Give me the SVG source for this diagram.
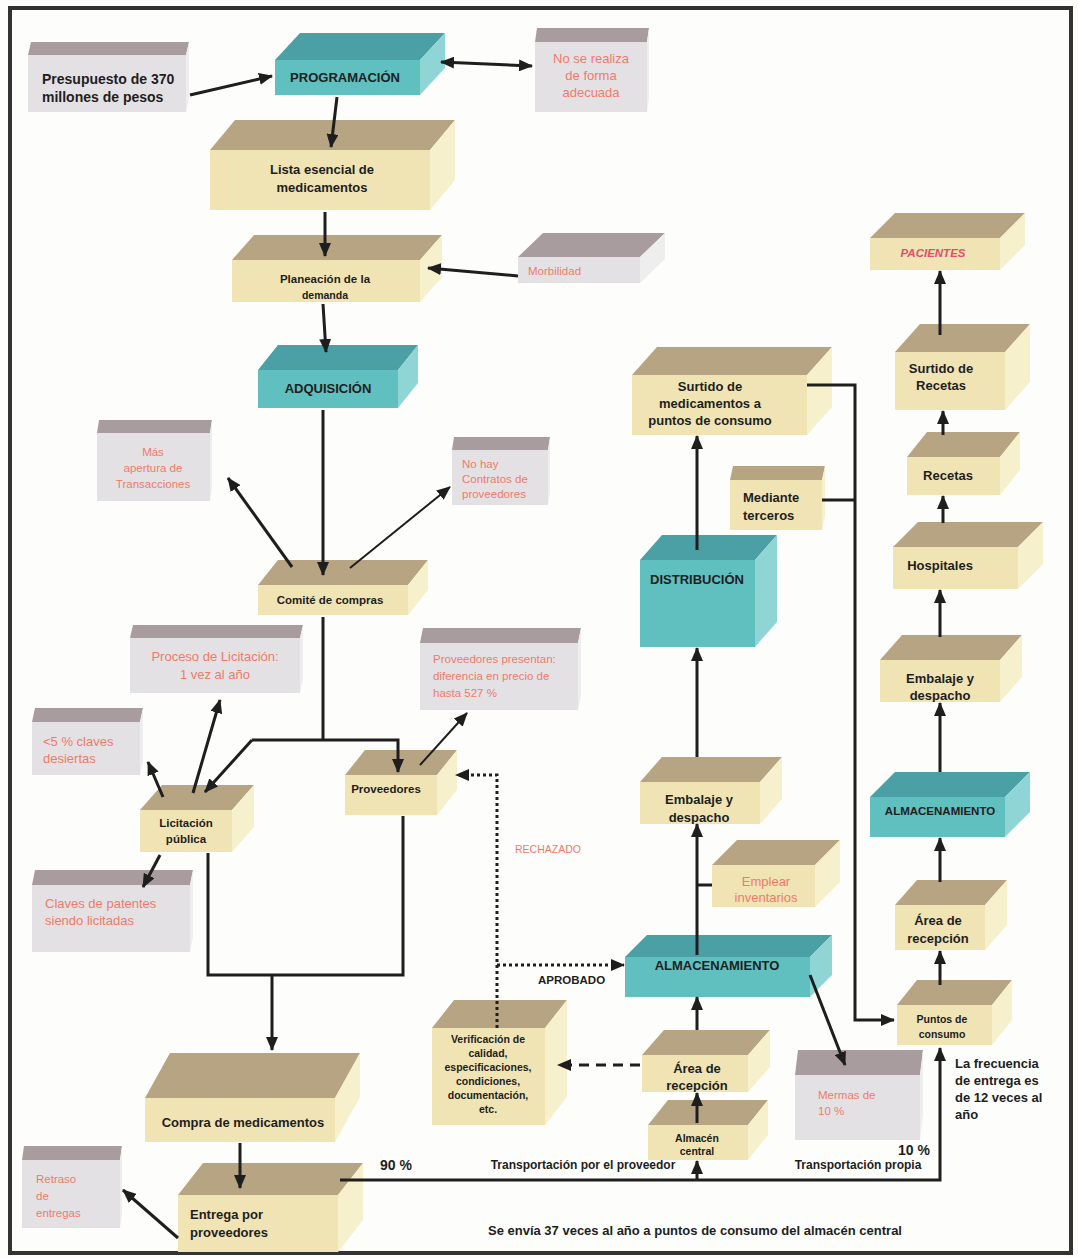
<svg xmlns="http://www.w3.org/2000/svg" width="1078" height="1258" viewBox="0 0 1078 1258">
<style>
.tp{fill:#b6a482}.tf{fill:#f0e4b4}.ts{fill:#f7f0cc}
.ct{fill:#4aa0a5}.cf{fill:#60bfbf}.cs{fill:#90d5d5}
.gt{fill:#a99c9f}.gf{fill:#e4e1e4}.gs{fill:#efeeef}
text{font-family:"Liberation Sans Narrow","Liberation Sans",Arial,sans-serif;font-weight:bold;fill:#1e1e1e}
.c{text-anchor:middle}
.s13{font-size:14px}.s12{font-size:13px}.s11{font-size:11.5px}.s10{font-size:10.5px}
.r{fill:#f07a6a;font-weight:normal}
.ln{fill:none;stroke:#1e1e1e;stroke-width:3}
.thin{stroke-width:2}
.dot{stroke-dasharray:3 3}
.dash{stroke-dasharray:10 7}
</style>
<defs>
<marker id="ah" markerUnits="userSpaceOnUse" markerWidth="14" markerHeight="12" viewBox="0 0 14 12" refX="13" refY="6" orient="auto-start-reverse"><path d="M0,0 L14,6 L0,12 z" fill="#1e1e1e"/></marker>
<clipPath id="cEmb1"><rect x="640" y="782" width="120" height="42"/></clipPath>
<clipPath id="cEmb2"><rect x="880" y="660" width="120" height="42"/></clipPath>
<clipPath id="cArea1"><rect x="642" y="1055" width="106" height="37"/></clipPath>
<clipPath id="cArea2"><rect x="895" y="905" width="90" height="45"/></clipPath>
<clipPath id="cPlan"><rect x="232" y="260" width="188" height="42"/></clipPath>
</defs>
<rect x="0" y="0" width="1078" height="1258" fill="#fdfdfb"/>
<rect x="10" y="8" width="1061" height="1245" fill="none" stroke="#333" stroke-width="4"/>

<g id="presupuesto"><polygon class="gt" points="28,55 186,55 189,42 31,42"/><polygon class="gs" points="186,55 189,42 189,99 186,112"/><rect class="gf" x="28" y="55" width="158" height="57"/>
<text class="s13" x="42" y="84">Presupuesto de 370</text><text class="s13" x="42" y="102">millones de pesos</text></g>

<g id="programacion"><polygon class="ct" points="275,60 420,60 445,33 300,33"/><polygon class="cs" points="420,60 445,33 445,68 420,95"/><rect class="cf" x="275" y="60" width="145" height="35"/>
<text class="s12 c" x="345" y="82">PROGRAMACIÓN</text></g>

<g id="no-se-realiza"><polygon class="gt" points="535,42 647,42 649,28 537,28"/><polygon class="gs" points="647,42 649,28 649,98 647,112"/><rect class="gf" x="535" y="42" width="112" height="70"/>
<text class="s12 c r" x="591" y="63">No se realiza</text><text class="s12 c r" x="591" y="80">de forma</text><text class="s12 c r" x="591" y="97">adecuada</text></g>

<g id="lista"><polygon class="tp" points="210,150 430,150 455,120 235,120"/><polygon class="ts" points="430,150 455,120 455,180 430,210"/><rect class="tf" x="210" y="150" width="220" height="60"/>
<text class="s12 c" x="322" y="174">Lista esencial de</text><text class="s12 c" x="322" y="192">medicamentos</text></g>

<g id="planeacion"><polygon class="tp" points="232,260 420,260 442,235 254,235"/><polygon class="ts" points="420,260 442,235 442,277 420,302"/><rect class="tf" x="232" y="260" width="188" height="42"/>
<g clip-path="url(#cPlan)"><text class="s11 c" x="325" y="283">Planeación de la</text><text class="s10 c" x="325" y="299">demanda</text></g></g>

<g id="morbilidad"><polygon class="gt" points="518,257 640,257 665,233 543,233"/><polygon class="gs" points="640,257 665,233 665,259 640,283"/><rect class="gf" x="518" y="257" width="122" height="26"/>
<text class="s11 r" x="528" y="275">Morbilidad</text></g>

<g id="adquisicion"><polygon class="ct" points="258,370 398,370 418,345 278,345"/><polygon class="cs" points="398,370 418,345 418,383 398,408"/><rect class="cf" x="258" y="370" width="140" height="38"/>
<text class="s12 c" x="328" y="393">ADQUISICIÓN</text></g>

<g id="mas-apertura"><polygon class="gt" points="97,433 210,433 212,420 99,420"/><polygon class="gs" points="210,433 212,420 212,488 210,501"/><rect class="gf" x="97" y="433" width="113" height="68"/>
<text class="s11 c r" x="153" y="456">Más</text><text class="s11 c r" x="153" y="472">apertura de</text><text class="s11 c r" x="153" y="488">Transacciones</text></g>

<g id="no-hay"><polygon class="gt" points="452,450 548,450 550,437 454,437"/><polygon class="gs" points="548,450 550,437 550,492 548,505"/><rect class="gf" x="452" y="450" width="96" height="55"/>
<text class="s11 r" x="462" y="468">No hay</text><text class="s11 r" x="462" y="483">Contratos de</text><text class="s11 r" x="462" y="498">proveedores</text></g>

<g id="comite"><polygon class="tp" points="258,585 408,585 428,560 278,560"/><polygon class="ts" points="408,585 428,560 428,590 408,615"/><rect class="tf" x="258" y="585" width="150" height="30"/>
<text class="s11 c" x="330" y="604">Comité de compras</text></g>

<g id="proceso"><polygon class="gt" points="130,638 300,638 303,625 133,625"/><polygon class="gs" points="300,638 303,625 303,680 300,693"/><rect class="gf" x="130" y="638" width="170" height="55"/>
<text class="s12 c r" x="215" y="661">Proceso de Licitación:</text><text class="s12 c r" x="215" y="679">1 vez al año</text></g>

<g id="presentan"><polygon class="gt" points="420,643 578,643 581,628 423,628"/><polygon class="gs" points="578,643 581,628 581,695 578,710"/><rect class="gf" x="420" y="643" width="158" height="67"/>
<text class="s11 r" x="433" y="663">Proveedores presentan:</text><text class="s11 r" x="433" y="680">diferencia en precio de</text><text class="s11 r" x="433" y="697">hasta 527 %</text></g>

<g id="cinco"><polygon class="gt" points="32,722 140,722 143,708 35,708"/><polygon class="gs" points="140,722 143,708 143,761 140,775"/><rect class="gf" x="32" y="722" width="108" height="53"/>
<text class="s12 r" x="43" y="746">&lt;5 % claves</text><text class="s12 r" x="43" y="763">desiertas</text></g>

<g id="licitacion"><polygon class="tp" points="140,810 232,810 254,785 162,785"/><polygon class="ts" points="232,810 254,785 254,827 232,852"/><rect class="tf" x="140" y="810" width="92" height="42"/>
<text class="s11 c" x="186" y="827">Licitación</text><text class="s11 c" x="186" y="843">pública</text></g>

<g id="claves"><polygon class="gt" points="32,885 190,885 193,870 35,870"/><polygon class="gs" points="190,885 193,870 193,937 190,952"/><rect class="gf" x="32" y="885" width="158" height="67"/>
<text class="s12 r" x="45" y="908">Claves de patentes</text><text class="s12 r" x="45" y="925">siendo licitadas</text></g>

<g id="proveedores"><polygon class="tp" points="345,775 437,775 457,750 365,750"/><polygon class="ts" points="437,775 457,750 457,790 437,815"/><rect class="tf" x="345" y="775" width="92" height="40"/>
<text class="s11 c" x="386" y="793">Proveedores</text></g>

<g id="compra"><polygon class="tp" points="145,1098 335,1098 360,1053 170,1053"/><polygon class="ts" points="335,1098 360,1053 360,1097 335,1142"/><rect class="tf" x="145" y="1098" width="190" height="44"/>
<text class="s12 c" x="243" y="1127">Compra de medicamentos</text></g>

<g id="entrega"><polygon class="tp" points="178,1195 338,1195 363,1163 203,1163"/><polygon class="ts" points="338,1195 363,1163 363,1220 338,1252"/><rect class="tf" x="178" y="1195" width="160" height="57"/>
<text class="s12" x="190" y="1219">Entrega por</text><text class="s12" x="190" y="1237">proveedores</text></g>

<g id="retraso"><polygon class="gt" points="22,1160 120,1160 122,1146 24,1146"/><polygon class="gs" points="120,1160 122,1146 122,1214 120,1228"/><rect class="gf" x="22" y="1160" width="98" height="68"/>
<text class="s11 r" x="36" y="1183">Retraso</text><text class="s11 r" x="36" y="1200">de</text><text class="s11 r" x="36" y="1217">entregas</text></g>

<g id="almacen-central"><polygon class="tp" points="648,1125 748,1125 768,1100 668,1100"/><polygon class="ts" points="748,1125 768,1100 768,1135 748,1160"/><rect class="tf" x="648" y="1125" width="100" height="35"/>
<text class="s10 c" x="697" y="1142">Almacén</text><text class="s10 c" x="697" y="1155">central</text></g>

<g id="area-recepcion-1"><polygon class="tp" points="642,1055 748,1055 770,1030 664,1030"/><polygon class="ts" points="748,1055 770,1030 770,1067 748,1092"/><rect class="tf" x="642" y="1055" width="106" height="37"/>
<g clip-path="url(#cArea1)"><text class="s12 c" x="697" y="1073">Área de</text><text class="s12 c" x="697" y="1090">recepción</text></g></g>

<g id="verificacion"><polygon class="tp" points="432,1028 545,1028 567,1000 454,1000"/><polygon class="ts" points="545,1028 567,1000 567,1097 545,1125"/><rect class="tf" x="432" y="1028" width="113" height="97"/>
<text class="s10 c" x="488" y="1043">Verificación de</text><text class="s10 c" x="488" y="1057">calidad,</text><text class="s10 c" x="488" y="1071">especificaciones,</text><text class="s10 c" x="488" y="1085">condiciones,</text><text class="s10 c" x="488" y="1099">documentación,</text><text class="s10 c" x="488" y="1113">etc.</text></g>

<g id="almacenamiento-1"><polygon class="ct" points="625,957 810,957 832,935 647,935"/><polygon class="cs" points="810,957 832,935 832,975 810,997"/><rect class="cf" x="625" y="957" width="185" height="40"/>
<text class="s12 c" x="717" y="970">ALMACENAMIENTO</text></g>

<g id="mermas"><polygon class="gt" points="795,1075 920,1075 923,1050 798,1050"/><polygon class="gs" points="920,1075 923,1050 923,1115 920,1140"/><rect class="gf" x="795" y="1075" width="125" height="65"/>
<text class="s11 r" x="818" y="1099">Mermas de</text><text class="s11 r" x="818" y="1115">10 %</text></g>

<g id="emplear"><polygon class="tp" points="712,865 815,865 840,840 737,840"/><polygon class="ts" points="815,865 840,840 840,882 815,907"/><rect class="tf" x="712" y="865" width="103" height="42"/>
<text class="s12 c r" x="766" y="886">Emplear</text><text class="s12 c r" x="766" y="902">inventarios</text></g>

<g id="embalaje-1"><polygon class="tp" points="640,782 760,782 782,757 662,757"/><polygon class="ts" points="760,782 782,757 782,799 760,824"/><rect class="tf" x="640" y="782" width="120" height="42"/>
<g clip-path="url(#cEmb1)"><text class="s12 c" x="699" y="804">Embalaje y</text><text class="s12 c" x="699" y="822">despacho</text></g></g>

<g id="distribucion"><polygon class="ct" points="640,560 755,560 777,535 662,535"/><polygon class="cs" points="755,560 777,535 777,622 755,647"/><rect class="cf" x="640" y="560" width="115" height="87"/>
<text class="s12 c" x="697" y="584">DISTRIBUCIÓN</text></g>

<g id="surtido-medicamentos"><polygon class="tp" points="632,375 807,375 832,347 657,347"/><polygon class="ts" points="807,375 832,347 832,407 807,435"/><rect class="tf" x="632" y="375" width="175" height="60"/>
<text class="s12 c" x="710" y="391">Surtido de</text><text class="s12 c" x="710" y="408">medicamentos a</text><text class="s12 c" x="710" y="425">puntos de consumo</text></g>

<g id="mediante"><polygon class="tp" points="730,480 822,480 825,466 733,466"/><polygon class="ts" points="822,480 825,466 825,516 822,530"/><rect class="tf" x="730" y="480" width="92" height="50"/>
<text class="s12" x="743" y="502">Mediante</text><text class="s12" x="743" y="520">terceros</text></g>

<g id="puntos-consumo"><polygon class="tp" points="897,1005 992,1005 1012,980 917,980"/><polygon class="ts" points="992,1005 1012,980 1012,1020 992,1045"/><rect class="tf" x="897" y="1005" width="95" height="40"/>
<text class="s10 c" x="942" y="1023">Puntos de</text><text class="s10 c" x="942" y="1038">consumo</text></g>

<g id="frecuencia"><text class="s12" x="955" y="1068">La frecuencia</text><text class="s12" x="955" y="1085">de entrega es</text><text class="s12" x="955" y="1102">de 12 veces al</text><text class="s12" x="955" y="1119">año</text></g>

<g id="area-recepcion-2"><polygon class="tp" points="895,905 985,905 1007,880 917,880"/><polygon class="ts" points="985,905 1007,880 1007,925 985,950"/><rect class="tf" x="895" y="905" width="90" height="45"/>
<g clip-path="url(#cArea2)"><text class="s12 c" x="938" y="925">Área de</text><text class="s12 c" x="938" y="943">recepción</text></g></g>

<g id="almacenamiento-2"><polygon class="ct" points="870,797 1005,797 1030,772 895,772"/><polygon class="cs" points="1005,797 1030,772 1030,812 1005,837"/><rect class="cf" x="870" y="797" width="135" height="40"/>
<text class="s11 c" x="940" y="815">ALMACENAMIENTO</text></g>

<g id="embalaje-2"><polygon class="tp" points="880,660 1000,660 1022,635 902,635"/><polygon class="ts" points="1000,660 1022,635 1022,677 1000,702"/><rect class="tf" x="880" y="660" width="120" height="42"/>
<g clip-path="url(#cEmb2)"><text class="s12 c" x="940" y="683">Embalaje y</text><text class="s12 c" x="940" y="700">despacho</text></g></g>

<g id="hospitales"><polygon class="tp" points="893,547 1018,547 1043,522 918,522"/><polygon class="ts" points="1018,547 1043,522 1043,564 1018,589"/><rect class="tf" x="893" y="547" width="125" height="42"/>
<text class="s12 c" x="940" y="570">Hospitales</text></g>

<g id="recetas"><polygon class="tp" points="907,457 1000,457 1020,432 927,432"/><polygon class="ts" points="1000,457 1020,432 1020,470 1000,495"/><rect class="tf" x="907" y="457" width="93" height="38"/>
<text class="s12 c" x="948" y="480">Recetas</text></g>

<g id="surtido-recetas"><polygon class="tp" points="895,352 1005,352 1030,324 920,324"/><polygon class="ts" points="1005,352 1030,324 1030,382 1005,410"/><rect class="tf" x="895" y="352" width="110" height="58"/>
<text class="s12 c" x="941" y="373">Surtido de</text><text class="s12 c" x="941" y="390">Recetas</text></g>

<g id="pacientes"><polygon class="tp" points="870,238 1000,238 1025,213 895,213"/><polygon class="ts" points="1000,238 1025,213 1025,245 1000,270"/><rect class="tf" x="870" y="238" width="130" height="32"/>
<text class="s11 c" x="933" y="257" style="fill:#e0506a;font-style:italic">PACIENTES</text></g>

<g id="connectors">
<line class="ln" x1="190" y1="95" x2="272" y2="76" marker-end="url(#ah)"/>
<line class="ln" x1="441" y1="62" x2="532" y2="66" marker-start="url(#ah)" marker-end="url(#ah)"/>
<line class="ln" x1="337" y1="97" x2="331" y2="147" marker-end="url(#ah)"/>
<line class="ln" x1="325" y1="212" x2="325" y2="256" marker-end="url(#ah)"/>
<line class="ln" x1="518" y1="276" x2="428" y2="268" marker-end="url(#ah)"/>
<line class="ln" x1="323" y1="304" x2="326" y2="352" marker-end="url(#ah)"/>
<line class="ln" x1="323" y1="410" x2="323" y2="575" marker-end="url(#ah)"/>
<line class="ln" x1="292" y1="567" x2="228" y2="478" marker-end="url(#ah)"/>
<line class="ln thin" x1="350" y1="568" x2="450" y2="487" marker-end="url(#ah)"/>
<polyline class="ln" points="323,617 323,740"/>
<polyline class="ln" points="252,740 398,740 398,772" marker-end="url(#ah)"/>
<line class="ln" x1="252" y1="740" x2="205" y2="792" marker-end="url(#ah)"/>
<line class="ln" x1="163" y1="797" x2="148" y2="762" marker-end="url(#ah)"/>
<line class="ln" x1="193" y1="793" x2="220" y2="700" marker-end="url(#ah)"/>
<line class="ln" x1="160" y1="855" x2="143" y2="887" marker-end="url(#ah)"/>
<line class="ln thin" x1="420" y1="765" x2="467" y2="713" marker-end="url(#ah)"/>
<polyline class="ln" points="208,853 208,975 403,975 403,816"/>
<line class="ln" x1="272" y1="975" x2="272" y2="1050" marker-end="url(#ah)"/>
<line class="ln" x1="240" y1="1143" x2="240" y2="1188" marker-end="url(#ah)"/>
<line class="ln" x1="178" y1="1238" x2="123" y2="1190" marker-end="url(#ah)"/>
<polyline class="ln" points="340,1180 940,1180 940,1048" marker-end="url(#ah)"/>
<line class="ln" x1="697" y1="1180" x2="697" y2="1161" marker-end="url(#ah)"/>
<line class="ln" x1="697" y1="1123" x2="697" y2="1093" marker-end="url(#ah)"/>
<line class="ln dash" x1="640" y1="1065" x2="558" y2="1065" marker-end="url(#ah)"/>
<polyline class="ln dot" points="497,1028 497,775 456,775" marker-end="url(#ah)"/>
<line class="ln dot" x1="497" y1="965" x2="624" y2="965" marker-end="url(#ah)"/>
<line class="ln" x1="697" y1="1030" x2="697" y2="997" marker-end="url(#ah)"/>
<line class="ln" x1="810" y1="975" x2="845" y2="1065" marker-end="url(#ah)"/>
<line class="ln" x1="697" y1="955" x2="697" y2="824" marker-end="url(#ah)"/>
<line class="ln" x1="697" y1="885" x2="712" y2="885"/>
<line class="ln" x1="697" y1="757" x2="697" y2="648" marker-end="url(#ah)"/>
<line class="ln" x1="697" y1="550" x2="697" y2="436" marker-end="url(#ah)"/>
<polyline class="ln" points="807,385 855,385 855,1020 894,1020" marker-end="url(#ah)"/>
<line class="ln" x1="822" y1="500" x2="855" y2="500"/>
<line class="ln" x1="940" y1="985" x2="940" y2="951" marker-end="url(#ah)"/>
<line class="ln" x1="940" y1="882" x2="940" y2="838" marker-end="url(#ah)"/>
<line class="ln" x1="940" y1="772" x2="940" y2="703" marker-end="url(#ah)"/>
<line class="ln" x1="940" y1="637" x2="940" y2="590" marker-end="url(#ah)"/>
<line class="ln" x1="943" y1="523" x2="943" y2="496" marker-end="url(#ah)"/>
<line class="ln" x1="943" y1="435" x2="943" y2="411" marker-end="url(#ah)"/>
<line class="ln" x1="940" y1="335" x2="940" y2="271" marker-end="url(#ah)"/>
</g>

<g id="labels">
<text class="s10 r" x="515" y="853">RECHAZADO</text>
<text class="s11" x="538" y="984">APROBADO</text>
<text class="s13" x="380" y="1170">90 %</text>
<text class="s13" x="898" y="1155">10 %</text>
<text class="c" style="font-size:12px" x="583" y="1169">Transportación  por el proveedor</text>
<text class="c" style="font-size:12px" x="858" y="1169">Transportación propia</text>
<text class="c" style="font-size:13px" x="695" y="1235">Se envía 37 veces al año a puntos de consumo del almacén central</text>
</g>
</svg>
